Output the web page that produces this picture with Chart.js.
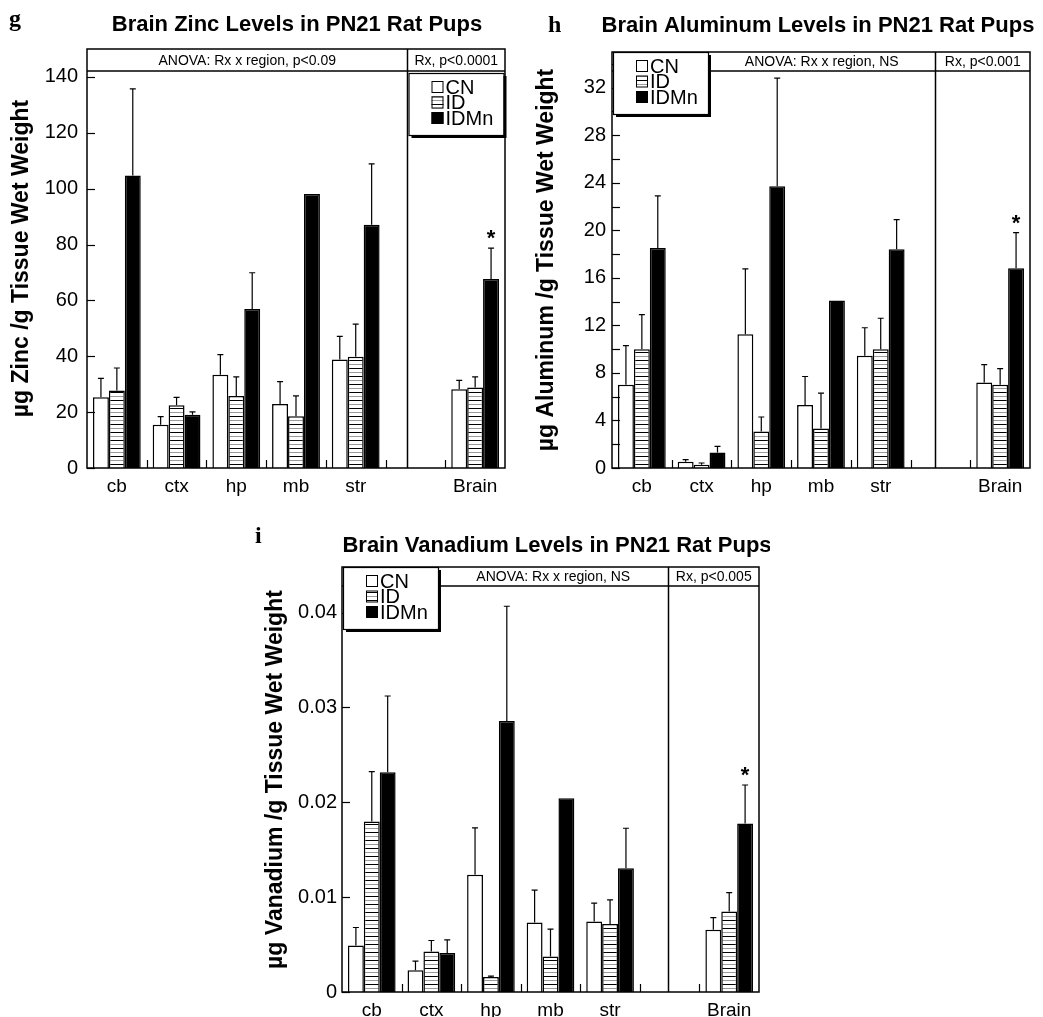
<!DOCTYPE html>
<html>
<head>
<meta charset="utf-8">
<script src="https://cdn.jsdelivr.net/npm/chart.js@4.4.1/dist/chart.umd.min.js"></script>
<style>
  body { margin: 0; background: #fff; width: 1043px; height: 1017px; position: relative; overflow: hidden; }
  canvas { position: absolute; }
  #cg { left: 0; top: 0; }
  #ch { left: 520px; top: 0; }
  #ci { left: 250px; top: 520px; }
</style>
</head>
<body>
<canvas id="cg" width="520" height="500"></canvas>
<canvas id="ch" width="523" height="500"></canvas>
<canvas id="ci" width="520" height="497"></canvas>
<script>
// ── Data (*_TOP = top of the SEM bar) ──────────────────────────────────────
const CATEGORIES   = ['cb', 'ctx', 'hp', 'mb', 'str', '', 'Brain'];
const SERIES_NAMES = ['CN', 'ID', 'IDMn'];

// g — Zinc
const ZN_CN       = [25.3, 15.5, 33.4, 22.9, 38.8, null, 28.2];
const ZN_CN_TOP   = [32.1, 18.4, 40.6, 30.9, 47.1, null, 31.4];
const ZN_ID       = [27.7, 22.5, 25.8, 18.5, 39.8, null, 28.8];
const ZN_ID_TOP   = [35.8, 25.3, 32.6, 25.8, 51.5, null, 32.6];
const ZN_IDMN     = [104.7, 19.1, 56.9, 98.1, 87.1, null, 67.7];
const ZN_IDMN_TOP = [135.7, 20.1, 69.9, null, 108.9, null, 78.7];

// h — Aluminum
const AL_CN       = [7.0, 0.53, 11.25, 5.3, 9.45, null, 7.2];
const AL_CN_TOP   = [10.3, 0.7, 16.75, 7.7, 11.8, null, 8.7];
const AL_ID       = [10.0, 0.28, 3.08, 3.33, 10.0, null, 7.0];
const AL_ID_TOP   = [12.9, 0.42, 4.29, 6.3, 12.6, null, 8.36];
const AL_IDMN     = [18.5, 1.31, 23.7, 14.1, 18.4, null, 16.8];
const AL_IDMN_TOP = [22.9, 1.82, 32.8, null, 20.9, null, 19.8];

// i — Vanadium
const V_CN        = [0.0049, 0.00228, 0.01235, 0.00733, 0.00743, null, 0.00656];
const V_CN_TOP    = [0.0068, 0.00326, 0.0173, 0.01074, 0.00937, null, 0.00785];
const V_ID        = [0.01796, 0.00427, 0.00158, 0.00375, 0.00716, null, 0.00848];
const V_ID_TOP    = [0.02322, 0.00543, 0.00168, 0.00663, 0.00972, null, 0.01048];
const V_IDMN      = [0.02316, 0.0041, 0.02856, 0.02042, 0.01305, null, 0.01775];
const V_IDMN_TOP  = [0.0312, 0.0055, 0.04066, null, 0.01726, null, 0.02182];

// ── Styling ────────────────────────────────────────────────────────────────
Chart.defaults.font.family = "'Liberation Sans', Arial, Helvetica, sans-serif";
Chart.defaults.color = '#000';

function hatch() {
  const c = document.createElement('canvas');
  c.width = 8; c.height = 8;
  const x = c.getContext('2d');
  x.fillStyle = '#fff'; x.fillRect(0, 0, 8, 8);
  x.fillStyle = '#000'; x.fillRect(0, 0, 8, 1);
  x.fillStyle = '#9a9a9a'; x.fillRect(0, 4, 8, 1);
  return x.createPattern(c, 'repeat');
}
const FILLS = ['#fff', hatch(), '#000'];
const SANS = "'Liberation Sans', Arial, Helvetica, sans-serif";

// ── Decorations: box, inward ticks, header band, divider, SEM bars, legend ─
function makeDeco(d) {
  return {
    id: 'deco',
    afterDatasetsDraw(chart) {
      const { ctx, chartArea: a, scales: { x, y } } = chart;
      ctx.save();
      ctx.strokeStyle = '#000';
      ctx.fillStyle = '#000';

      // SEM bars (upward only)
      ctx.lineWidth = 1.2;
      chart.data.datasets.forEach((ds, k) => {
        chart.getDatasetMeta(k).data.forEach((bar, j) => {
          const top = ds.errTop[j];
          if (top == null) return;
          const yt = y.getPixelForValue(top);
          ctx.beginPath();
          ctx.moveTo(bar.x, bar.y); ctx.lineTo(bar.x, yt);
          ctx.moveTo(bar.x - 3, yt); ctx.lineTo(bar.x + 3, yt);
          ctx.stroke();
        });
      });

      // significance star over Brain IDMn
      const sb = chart.getDatasetMeta(2).data[6];
      const st = chart.data.datasets[2].errTop[6];
      ctx.font = 'bold 22px ' + SANS;
      ctx.textAlign = 'center';
      ctx.textBaseline = 'alphabetic';
      ctx.fillText('*', sb.x, y.getPixelForValue(st) - 3);

      // frame
      ctx.lineWidth = 1.5;
      ctx.strokeRect(a.left, a.top, a.width, a.height);

      // inward y ticks
      ctx.lineWidth = 1.2;
      y.ticks.forEach((t, i) => {
        const py = Math.round(y.getPixelForTick(i)) + 0.5;
        ctx.beginPath(); ctx.moveTo(a.left, py); ctx.lineTo(a.left + 8, py); ctx.stroke();
      });

      // group separators on x axis
      for (let i = 0; i < CATEGORIES.length - 1; i++) {
        const px = Math.round((x.getPixelForValue(i) + x.getPixelForValue(i + 1)) / 2) + 0.5;
        ctx.beginPath(); ctx.moveTo(px, a.bottom); ctx.lineTo(px, a.bottom - 8); ctx.stroke();
      }

      // divider between regions and whole brain
      const catW = x.getPixelForValue(1) - x.getPixelForValue(0);
      const dx = Math.round(x.getPixelForValue(5) - catW / 2 + d.divFrac * catW) + 0.5;
      ctx.lineWidth = 1.5;
      ctx.beginPath(); ctx.moveTo(dx, a.top); ctx.lineTo(dx, a.bottom); ctx.stroke();

      // header band
      const hy = a.top + d.headH;
      ctx.beginPath(); ctx.moveTo(a.left, hy); ctx.lineTo(a.right, hy); ctx.stroke();

      // legend box
      const lw = 95, lh = 62;
      const lx = d.legendLeft ? a.left + 1 : dx + 1;
      const ly = d.legendLeft ? a.top : hy + 2;
      ctx.fillStyle = '#000';
      ctx.fillRect(lx + 3, ly + 3, lw, lh);
      ctx.fillStyle = '#fff';
      ctx.fillRect(lx, ly, lw, lh);
      ctx.lineWidth = 1.2;
      ctx.strokeRect(lx + 0.5, ly + 0.5, lw, lh);
      ctx.font = '20px ' + SANS;
      ctx.textAlign = 'left';
      ctx.textBaseline = 'middle';
      SERIES_NAMES.forEach((name, k) => {
        const cy = ly + 14 + 15.5 * k;
        ctx.fillStyle = FILLS[k];
        ctx.fillRect(lx + 23, cy - 6, 12, 12);
        ctx.strokeStyle = '#000';
        ctx.lineWidth = 1;
        ctx.strokeRect(lx + 23.5, cy - 5.5, 11, 11);
        ctx.fillStyle = '#000';
        ctx.fillText(name, lx + 37, cy + 1);
      });

      // header texts
      ctx.font = '14px ' + SANS;
      ctx.textAlign = 'center';
      ctx.textBaseline = 'middle';
      const leftBound = d.legendLeft ? lx + lw : a.left;
      ctx.fillText(d.anova, (leftBound + dx) / 2, a.top + d.headH / 2 + 1);
      ctx.fillText(d.rx, (dx + a.right) / 2, a.top + d.headH / 2 + 1);

      // title and panel letter
      ctx.font = 'bold 22px ' + SANS;
      ctx.textBaseline = 'alphabetic';
      ctx.fillText(d.title, d.titleX, d.titleY);
      ctx.font = "bold 24px 'Liberation Serif', 'Times New Roman', serif";
      ctx.textAlign = 'left';
      ctx.fillText(d.letter, d.letterX, d.letterY);
      ctx.restore();
    },
  };
}

function build(id, vals, tops, y, d) {
  const datasets = SERIES_NAMES.map((name, k) => ({
    label: name,
    data: vals[k],
    errTop: tops[k],
    backgroundColor: FILLS[k],
    borderColor: '#000',
    borderWidth: 1.5,
    barPercentage: 1.0,
    categoryPercentage: 0.8,
  }));
  new Chart(document.getElementById(id), {
    type: 'bar',
    data: { labels: CATEGORIES, datasets },
    options: {
      responsive: false, animation: false, devicePixelRatio: 1,
      layout: { padding: { top: d.top, right: d.right, left: 0, bottom: 0 } },
      plugins: { legend: { display: false }, tooltip: { enabled: false } },
      scales: {
        x: {
          grid: { display: false, drawTicks: false }, border: { display: false },
          ticks: { font: { size: 19 }, color: '#000', padding: 7, maxRotation: 0, autoSkip: false },
          afterFit: s => { s.height = d.xH; },
        },
        y: {
          min: 0, max: y.max,
          grid: { display: false, drawTicks: false }, border: { display: false },
          ticks: {
            stepSize: y.step, includeBounds: false, autoSkip: false,
            font: { size: 20 }, color: '#000', padding: d.tickPad,
            callback: y.label,
          },
          title: {
            display: true, text: y.title, color: '#000',
            font: { size: 23, weight: 'bold' },
            padding: { top: d.titlePad, bottom: 0 },
          },
          afterFit: s => { s.width = d.yW; },
        },
      },
    },
    plugins: [makeDeco(d)],
  });
}

build('cg',
  [ZN_CN, ZN_ID, ZN_IDMN], [ZN_CN_TOP, ZN_ID_TOP, ZN_IDMN_TOP],
  { max: 150, step: 20, title: 'µg Zinc /g Tissue Wet Weight', label: v => v },
  { top: 49, right: 15, yW: 87, xH: 32, tickPad: 9, titlePad: 8, headH: 22, divFrac: 0.36,
    legendLeft: false, anova: 'ANOVA: Rx x region, p<0.09', rx: 'Rx, p<0.0001',
    title: 'Brain Zinc Levels in PN21 Rat Pups', titleX: 297, titleY: 31,
    letter: 'g', letterX: 9, letterY: 26 });

build('ch',
  [AL_CN, AL_ID, AL_IDMN], [AL_CN_TOP, AL_ID_TOP, AL_IDMN_TOP],
  { max: 35, step: 2, title: 'µg Aluminum /g Tissue Wet Weight', label: v => (v % 4 === 0 ? v : '') },
  { top: 52, right: 13, yW: 92, xH: 32, tickPad: 6, titlePad: 13, headH: 19, divFrac: 0.41,
    legendLeft: true, anova: 'ANOVA: Rx x region, NS', rx: 'Rx, p<0.001',
    title: 'Brain Aluminum Levels in PN21 Rat Pups', titleX: 298, titleY: 32,
    letter: 'h', letterX: 28, letterY: 32 });

build('ci',
  [V_CN, V_ID, V_IDMN], [V_CN_TOP, V_ID_TOP, V_IDMN_TOP],
  { max: 0.0448, step: 0.01, title: 'µg Vanadium /g Tissue Wet Weight', label: v => (v === 0 ? '0' : v.toFixed(2)) },
  { top: 47, right: 11, yW: 92, xH: 25, tickPad: 5, titlePad: 12, headH: 19, divFrac: 0.47,
    legendLeft: true, anova: 'ANOVA: Rx x region, NS', rx: 'Rx, p<0.005',
    title: 'Brain Vanadium Levels in PN21 Rat Pups', titleX: 307, titleY: 32,
    letter: 'i', letterX: 5, letterY: 23 });
</script>
</body>
</html>
